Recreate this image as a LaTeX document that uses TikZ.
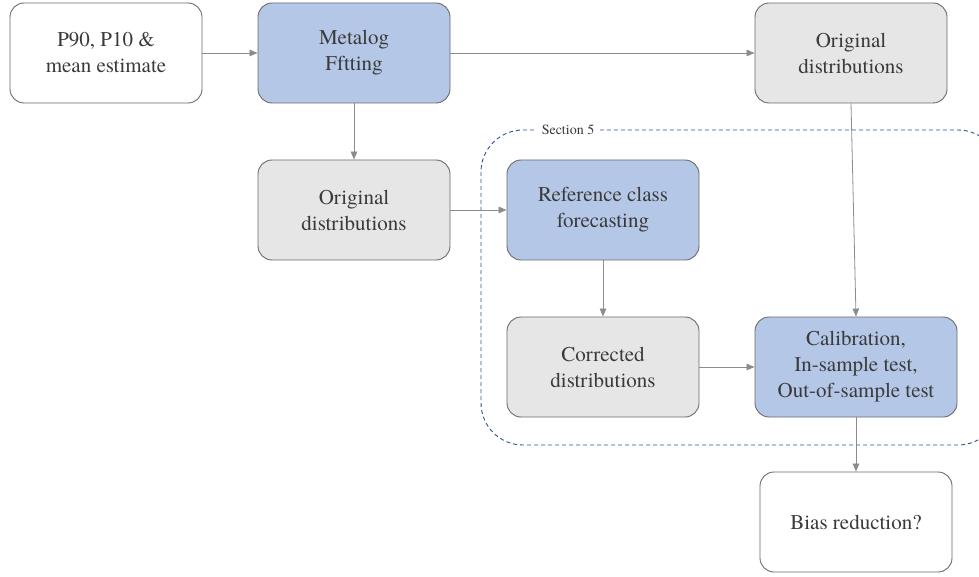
\documentclass[tikz,border=0pt]{standalone}
\usepackage{fontspec}
\setmainfont{texgyretermes}[Extension=.otf, UprightFont=*-regular, BoldFont=*-bold, ItalicFont=*-italic, BoldItalicFont=*-bolditalic]
\usetikzlibrary{arrows.meta}
\definecolor{boxblue}{HTML}{B4C7E7}
\definecolor{boxgray}{HTML}{E7E6E6}
\definecolor{edgegray}{HTML}{6B6B6B}
\definecolor{arrgray}{HTML}{8C8C8C}
\definecolor{txtgray}{HTML}{3A3A3A}
\definecolor{dashblue}{HTML}{2F5597}
\tikzset{
  flowbox/.style={draw=edgegray, line width=0.9pt, rounded corners=14pt,
    minimum width=192pt, minimum height=100pt, align=center,
    font=\rmfamily\fontsize{21}{26}\selectfont, text=txtgray, inner sep=0pt},
  whitebox/.style={flowbox, fill=white},
  bluebox/.style={flowbox, fill=boxblue},
  graybox/.style={flowbox, fill=boxgray},
  conn/.style={draw=arrgray, line width=0.8pt, -{Triangle[length=8pt,width=6.5pt]}, shorten >=0pt}
}
\begin{document}
\begin{tikzpicture}[x=1pt,y=-1pt]
\useasboundingbox (0,0) rectangle (979,577);
\clip (0,0) rectangle (979,577);
\fill[white] (0,0) rectangle (979,577);
% section frame
\draw[dashblue, dashed, dash pattern=on 4pt off 3pt, line width=0.9pt, rounded corners=42pt]
  (481,130) rectangle (1000,445);
\node[fill=white, inner xsep=6pt, inner ysep=2pt, font=\rmfamily\fontsize{14}{16}\selectfont, text=txtgray] (sec) at (568,130) {Section 5};
% boxes
\node[whitebox] (est) at (106,53) {P90, P10 \&\\mean estimate};
\node[bluebox] (meta) at (354,53) {Metalog\\Fftting};
\node[graybox] (orig1) at (851,53) {Original\\distributions};
\node[graybox] (orig2) at (354,210) {Original\\distributions};
\node[bluebox] (ref) at (603,210) {Reference class\\forecasting};
\node[graybox] (corr) at (603,367) {Corrected\\distributions};
\node[bluebox, minimum width=202pt] (cal) at (856,367) {Calibration,\\In-sample test,\\Out-of-sample test};
\node[whitebox] (bias) at (856,522) {Bias reduction?};
% connectors
\draw[conn] (est.east) -- (meta.west);
\draw[conn] (meta.east) -- (orig1.west);
\draw[conn] (meta.south) -- (orig2.north);
\draw[conn] (orig2.east) -- (ref.west);
\draw[conn] (ref.south) -- (corr.north);
\draw[conn] (corr.east) -- (cal.west);
\draw[conn] (orig1.south) -- (cal.north);
\draw[conn] (cal.south) -- (bias.north);
\end{tikzpicture}
\end{document}
